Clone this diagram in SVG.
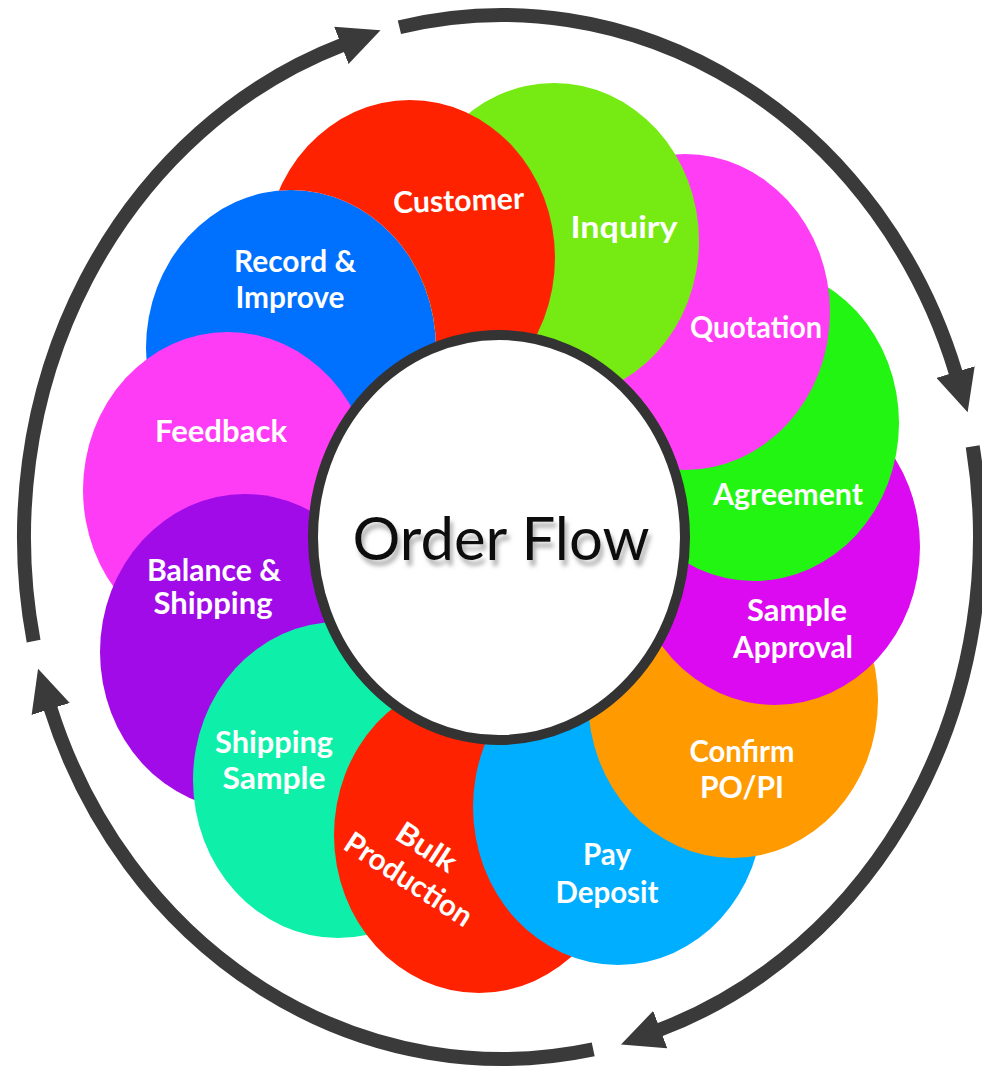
<svg xmlns="http://www.w3.org/2000/svg" width="982" height="1070" viewBox="0 0 982 1070">
<style>
.ring{fill:none;stroke:#3a3a3a;stroke-width:14;marker-end:url(#ah)}
.lbl{font-family:Lato,"Liberation Sans",sans-serif;font-weight:700;font-size:30px;fill:#fff;text-anchor:middle}
.title{font-family:Lato,"Liberation Sans",sans-serif;font-size:60px;text-anchor:middle}
</style>
<defs>
<marker id="ah" markerUnits="userSpaceOnUse" viewBox="0 0 42 40" markerWidth="42" markerHeight="40" refX="2" refY="20" orient="auto">
<path d="M0,0 L42,20 L0,40 z" fill="#3a3a3a"/>
</marker>
<mask id="m-rec" maskUnits="userSpaceOnUse" x="0" y="0" width="982" height="1070">
<rect width="982" height="1070" fill="#fff"/>
<ellipse cx="291" cy="348" rx="145" ry="158" fill="#000"/>
</mask>
<filter id="sh" x="-10%" y="-30%" width="120%" height="160%">
<feDropShadow dx="3" dy="6" stdDeviation="2" flood-color="#777" flood-opacity="0.55"/>
</filter>
</defs>
<rect width="982" height="1070" fill="#fff"/>

<g id="connectors">
<path class="ring" d="M33.6 641.1 A478 522 0 0 1 343.2 44.6"/>
<path class="ring" d="M399.4 27.2 A478 522 0 0 1 956.1 374"/>
<path class="ring" d="M972.7 446.4 A478 522 0 0 1 658.4 1030.3"/>
<path class="ring" d="M593.2 1049.4 A478 522 0 0 1 50.1 707"/>
</g>

<g id="node-record">
<ellipse cx="291" cy="348" rx="145" ry="158" fill="#0070ff"/>
<text class="lbl" x="295" y="272" textLength="122" lengthAdjust="spacingAndGlyphs">Record &amp;</text>
<text class="lbl" x="290" y="308" textLength="109" lengthAdjust="spacingAndGlyphs">Improve</text>
</g>
<g id="node-feedback">
<ellipse cx="228" cy="490" rx="145" ry="158" fill="#ff3cf5"/>
<text class="lbl" x="221" y="442" textLength="132" lengthAdjust="spacingAndGlyphs">Feedback</text>
</g>
<g id="node-balance">
<ellipse cx="245" cy="652" rx="145" ry="158" fill="#a00be8"/>
<text class="lbl" x="214" y="581" textLength="134" lengthAdjust="spacingAndGlyphs">Balance &amp;</text>
<text class="lbl" x="213" y="614" textLength="119" lengthAdjust="spacingAndGlyphs">Shipping</text>
</g>
<g id="node-shipping-sample">
<ellipse cx="338" cy="780" rx="145" ry="158" fill="#0ef0aa"/>
<text class="lbl" x="274" y="753" textLength="118" lengthAdjust="spacingAndGlyphs">Shipping</text>
<text class="lbl" x="274" y="789" textLength="103" lengthAdjust="spacingAndGlyphs">Sample</text>
</g>
<g id="node-bulk">
<ellipse cx="479" cy="835" rx="145" ry="158" fill="#ff2200"/>
<text class="lbl" transform="translate(421 856) rotate(33)" textLength="66" lengthAdjust="spacingAndGlyphs">Bulk</text>
<text class="lbl" transform="translate(403 888) rotate(33)" textLength="146" lengthAdjust="spacingAndGlyphs">Production</text>
</g>
<g id="node-pay">
<ellipse cx="618" cy="807" rx="145" ry="158" fill="#00aeff"/>
<text class="lbl" x="607" y="865" textLength="48" lengthAdjust="spacingAndGlyphs">Pay</text>
<text class="lbl" x="607" y="903" textLength="103" lengthAdjust="spacingAndGlyphs">Deposit</text>
</g>
<g id="node-confirm">
<ellipse cx="733" cy="700" rx="145" ry="158" fill="#ff9a00"/>
<text class="lbl" x="742" y="762" textLength="105" lengthAdjust="spacingAndGlyphs">Confirm</text>
<text class="lbl" x="742" y="798" textLength="84" lengthAdjust="spacingAndGlyphs">PO/PI</text>
</g>
<g id="node-sample">
<ellipse cx="775" cy="547" rx="145" ry="158" fill="#dc0af0"/>
<text class="lbl" x="797" y="621" textLength="100" lengthAdjust="spacingAndGlyphs">Sample</text>
<text class="lbl" x="793" y="658" textLength="120" lengthAdjust="spacingAndGlyphs">Approval</text>
</g>
<g id="node-agreement">
<ellipse cx="754" cy="423" rx="145" ry="158" fill="#22f511"/>
<text class="lbl" x="788" y="505" textLength="150" lengthAdjust="spacingAndGlyphs">Agreement</text>
</g>
<g id="node-quotation">
<ellipse cx="685" cy="312" rx="145" ry="158" fill="#ff3df5"/>
<text class="lbl" x="756" y="338" textLength="132" lengthAdjust="spacingAndGlyphs">Quotation</text>
</g>
<g id="node-inquiry">
<ellipse cx="554" cy="241" rx="145" ry="158" fill="#76ea13" mask="url(#m-rec)"/>
<text class="lbl" x="624" y="238" textLength="107" lengthAdjust="spacingAndGlyphs">Inquiry</text>
</g>
<g id="node-customer">
<ellipse cx="410" cy="258" rx="145" ry="158" fill="#ff2200" mask="url(#m-rec)"/>
<text class="lbl" transform="translate(459 211) rotate(-2)" textLength="131" lengthAdjust="spacingAndGlyphs">Customer</text>
</g>

<g id="node-center">
<ellipse cx="499" cy="537.5" rx="186" ry="202.5" fill="#fff" stroke="#333" stroke-width="10"/>
<text class="title" x="501" y="560" fill="#111" filter="url(#sh)" textLength="297" lengthAdjust="spacingAndGlyphs">Order Flow</text>
</g>
</svg>
